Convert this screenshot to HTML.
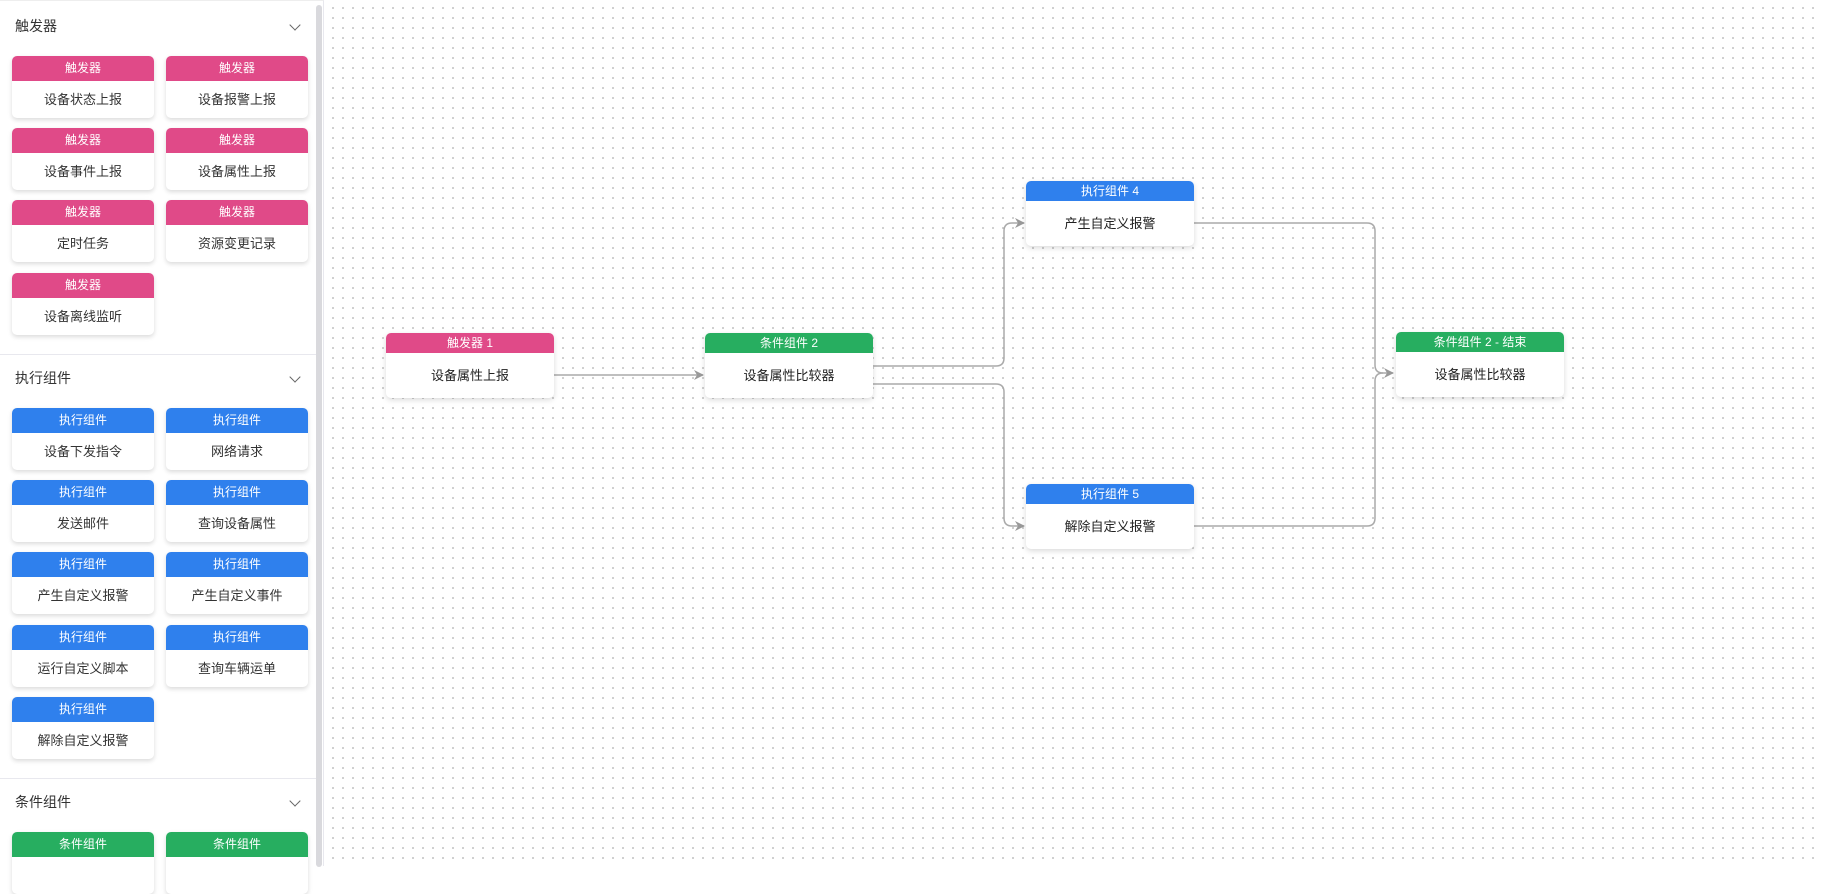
<!DOCTYPE html>
<html><head><meta charset="utf-8"><style>
*{box-sizing:border-box;margin:0;padding:0}
body{width:1822px;height:866px;overflow:hidden;background:#fff;font-family:"Liberation Sans","Noto Sans CJK SC",sans-serif;position:relative}
#side{position:absolute;left:0;top:0;width:324px;height:866px;background:#fff;border-right:1px solid #e8e8ee;border-top:1px solid #eee}
#scroll{position:absolute;left:316px;top:4px;width:6px;height:862px;background:#d9d9dd;border-radius:3px}
.sec{position:absolute;left:15px;font-size:14px;color:#333}
.chev{position:absolute;left:291px;width:8px;height:8px;border-right:1px solid #666;border-bottom:1px solid #666;transform:rotate(45deg)}
.div{position:absolute;left:0;width:316px;height:1px;background:#e8e8ee}
.card{position:absolute;width:142px;height:62px;background:#fff;border-radius:5px;box-shadow:0 2px 5px rgba(0,0,0,.15);overflow:hidden;text-align:center}
.card .h{height:25px;line-height:25px;color:#fff;font-size:12px}
.card .b{line-height:37px;font-size:13px;color:#333}
.pk{background:#e04a88}.bl{background:#2f80ed}.gr{background:#27ae60}
#canvas{position:absolute;left:325px;top:0;width:1497px;height:866px;background-color:#fff;background-image:radial-gradient(circle,#c4c4c4 0.9px,transparent 1.1px);background-size:10px 10px;background-position:3px 3px}
.node{position:absolute;width:168px;height:65px;background:#fff;border-radius:5px;box-shadow:0 2px 6px rgba(0,0,0,.15);overflow:hidden;text-align:center}
.node .h{height:20px;line-height:20px;color:#fff;font-size:12px}
.node .b{line-height:45px;font-size:13px;color:#222}
</style></head><body>
<div id="canvas"></div>
<svg style="position:absolute;left:0;top:0" width="1822" height="866">
<defs><marker id="a" markerWidth="10" markerHeight="10" refX="9" refY="5" orient="auto" markerUnits="userSpaceOnUse"><path d="M0,0 L10,5 L0,10 L3,5z" fill="#999"/></marker></defs>
<g fill="none" stroke="#aaa" stroke-width="1.5">
<path d="M554,375 L703,375" marker-end="url(#a)"/>
<path d="M873,366 L996,366 Q1004,366 1004,358 L1004,231 Q1004,223 1012,223 L1024,223" marker-end="url(#a)"/>
<path d="M873,384 L996,384 Q1004,384 1004,392 L1004,518 Q1004,526 1012,526 L1024,526" marker-end="url(#a)"/>
<path d="M1194,223 L1367,223 Q1375,223 1375,231 L1375,365 Q1375,373 1383,373 L1393,373" marker-end="url(#a)"/>
<path d="M1194,526 L1367,526 Q1375,526 1375,518 L1375,381 Q1375,373 1383,373"/>
</g></svg>
<div class="node" style="left:386px;top:333px"><div class="h pk">触发器 1</div><div class="b">设备属性上报</div></div>
<div class="node" style="left:705px;top:333px"><div class="h gr">条件组件 2</div><div class="b">设备属性比较器</div></div>
<div class="node" style="left:1026px;top:181px"><div class="h bl">执行组件 4</div><div class="b">产生自定义报警</div></div>
<div class="node" style="left:1026px;top:484px"><div class="h bl">执行组件 5</div><div class="b">解除自定义报警</div></div>
<div class="node" style="left:1396px;top:332px"><div class="h gr">条件组件 2 - 结束</div><div class="b">设备属性比较器</div></div>
<div id="side">
<div id="scroll"></div>
<div class="sec" style="top:15px">触发器</div><div class="chev" style="top:20px"></div>
<div class="card" style="left:12px;top:55px"><div class="h pk">触发器</div><div class="b">设备状态上报</div></div>
<div class="card" style="left:166px;top:55px"><div class="h pk">触发器</div><div class="b">设备报警上报</div></div>
<div class="card" style="left:12px;top:127px"><div class="h pk">触发器</div><div class="b">设备事件上报</div></div>
<div class="card" style="left:166px;top:127px"><div class="h pk">触发器</div><div class="b">设备属性上报</div></div>
<div class="card" style="left:12px;top:199px"><div class="h pk">触发器</div><div class="b">定时任务</div></div>
<div class="card" style="left:166px;top:199px"><div class="h pk">触发器</div><div class="b">资源变更记录</div></div>
<div class="card" style="left:12px;top:272px"><div class="h pk">触发器</div><div class="b">设备离线监听</div></div>
<div class="div" style="top:353px"></div>
<div class="sec" style="top:367px">执行组件</div><div class="chev" style="top:372px"></div>
<div class="card" style="left:12px;top:407px"><div class="h bl">执行组件</div><div class="b">设备下发指令</div></div>
<div class="card" style="left:166px;top:407px"><div class="h bl">执行组件</div><div class="b">网络请求</div></div>
<div class="card" style="left:12px;top:479px"><div class="h bl">执行组件</div><div class="b">发送邮件</div></div>
<div class="card" style="left:166px;top:479px"><div class="h bl">执行组件</div><div class="b">查询设备属性</div></div>
<div class="card" style="left:12px;top:551px"><div class="h bl">执行组件</div><div class="b">产生自定义报警</div></div>
<div class="card" style="left:166px;top:551px"><div class="h bl">执行组件</div><div class="b">产生自定义事件</div></div>
<div class="card" style="left:12px;top:624px"><div class="h bl">执行组件</div><div class="b">运行自定义脚本</div></div>
<div class="card" style="left:166px;top:624px"><div class="h bl">执行组件</div><div class="b">查询车辆运单</div></div>
<div class="card" style="left:12px;top:696px"><div class="h bl">执行组件</div><div class="b">解除自定义报警</div></div>
<div class="div" style="top:777px"></div>
<div class="sec" style="top:791px">条件组件</div><div class="chev" style="top:796px"></div>
<div class="card" style="left:12px;top:831px"><div class="h gr">条件组件</div><div class="b"></div></div>
<div class="card" style="left:166px;top:831px"><div class="h gr">条件组件</div><div class="b"></div></div>
</div>
</body></html>
